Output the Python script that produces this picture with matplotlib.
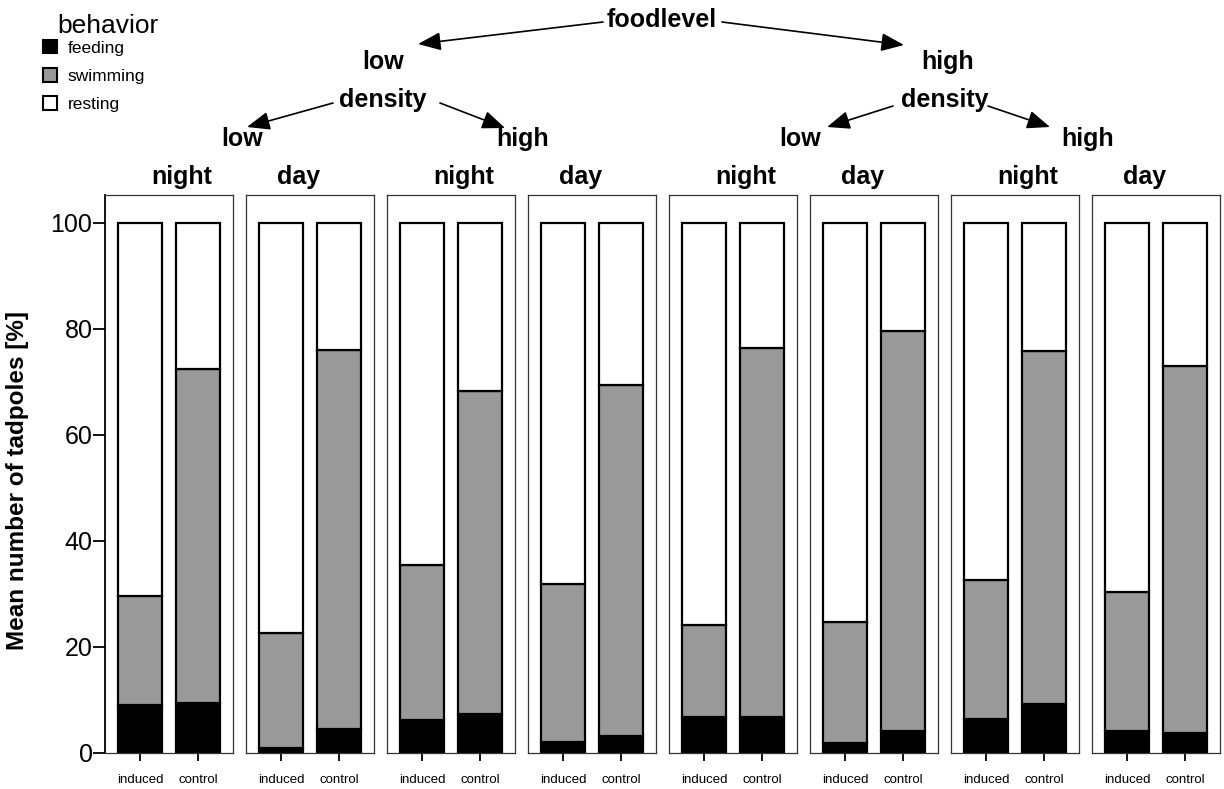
import matplotlib
matplotlib.use('Agg')
import matplotlib.pyplot as plt
from matplotlib.patches import Patch
import numpy as np

plt.rcParams['font.family'] = ['Liberation Sans', 'DejaVu Sans']

# panels: (foodlevel, density, time) -> values for [induced, control]
conditions = ['induced', 'control']
times = ['night', 'day', 'night', 'day', 'night', 'day', 'night', 'day']
feeding = [
    [9.0, 9.4], [0.9, 4.5], [6.1, 7.3], [2.1, 3.1],
    [6.7, 6.8], [1.9, 4.0], [6.4, 9.1], [4.1, 3.8],
]
# top of swimming segment (feeding + swimming)
swim_top = [
    [29.6, 72.3], [22.6, 76.0], [35.4, 68.3], [31.9, 69.3],
    [24.0, 76.3], [24.7, 79.5], [32.5, 75.8], [30.4, 73.0],
]
behaviors = ['feeding', 'swimming', 'resting']
colors = ['black', '#999999', 'white']

W, H = 1224, 789
fig = plt.figure(figsize=(W / 100, H / 100), dpi=100)


def fx(x):
    return x / W


def fy(y):
    return 1 - y / H


y0, y1 = 752.7, 195.0
x = np.arange(1, len(conditions) + 1)
for i in range(8):
    left = 105 + 141 * i
    ax = fig.add_axes([fx(left), fy(y0), 128 / W, (y0 - y1) / H])
    f = np.array(feeding[i])
    s = np.array(swim_top[i]) - f
    r = 100 - np.array(swim_top[i])
    bottom = np.zeros(2)
    for vals, c in zip([f, s, r], colors):
        ax.bar(x, vals, bottom=bottom, width=0.763, color=c,
               edgecolor='black', linewidth=1.6)
        bottom = bottom + vals
    ax.set_xlim(0.388, 2.60)
    ax.set_ylim(0, 105.2)
    ax.set_xticks(x)
    ax.set_xticklabels(conditions, fontsize=9.5)
    ax.tick_params(axis='x', length=6, width=1.3, pad=9)
    for sp in ax.spines.values():
        sp.set_linewidth(0.9)
        sp.set_color('#333333')
    if i == 0:
        ax.set_yticks(np.arange(0, 101, 20))
        ax.tick_params(axis='y', length=9, width=1.3, pad=0, labelsize=18)
        ax.spines['left'].set_color('black')
        ax.spines['left'].set_linewidth(1.3)
    else:
        ax.set_yticks([])
    tx = 0.60 if times[i] == 'night' else 0.41
    ax.text(tx, 1.0 + 6 / (y0 - y1), times[i], transform=ax.transAxes,
            ha='center', va='bottom', fontsize=18, fontweight='bold')

fig.text(fx(18), fy(480), 'Mean number of tadpoles [%]', rotation=90,
         ha='center', va='center', fontsize=17.5, fontweight='bold')


# hierarchy labels
def label(x, y, s):
    fig.text(fx(x), fy(y), s, ha='center', va='center', fontsize=18,
             fontweight='bold')


def arrow(xa, ya, xb, yb):
    fig.add_artist(matplotlib.patches.FancyArrowPatch(
        (fx(xa), fy(ya)), (fx(xb), fy(yb)), transform=fig.transFigure,
        arrowstyle='-|>,head_length=1.0,head_width=0.4', mutation_scale=14,
        color='black', linewidth=1.2, shrinkA=0, shrinkB=0))


label(662, 20, 'foodlevel')
arrow(603, 22, 418, 44)
arrow(722, 22, 904, 45)
label(383, 62, 'low')
label(948, 62, 'high')
label(383, 100, 'density')
label(945, 100, 'density')
arrow(333, 103, 247, 127)
arrow(440, 103, 505, 128)
arrow(893, 106, 827, 127)
arrow(988, 106, 1050, 127)
label(242, 139, 'low')
label(523, 139, 'high')
label(800, 139, 'low')
label(1088, 139, 'high')

fig.text(fx(57), fy(33), 'behavior', ha='left', va='baseline', fontsize=19)
handles = [Patch(facecolor=c, edgecolor='black', linewidth=1.5) for c in colors]
fig.legend(handles, behaviors, loc='upper left',
           bbox_to_anchor=(fx(31), fy(28)), frameon=False, fontsize=12.5,
           handlelength=0.8, handleheight=0.8, handletextpad=0.6,
           labelspacing=0.72, borderpad=0.2)

fig.savefig('out.png', dpi=100)
